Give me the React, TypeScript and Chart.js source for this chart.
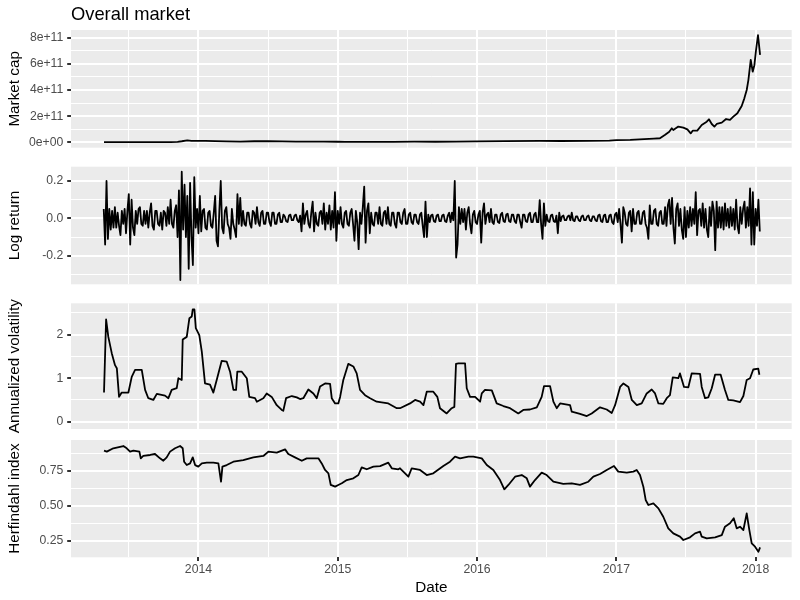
import React, { useEffect, useRef } from 'react';
import { Chart, registerables } from 'chart.js';

Chart.register(...registerables);
Chart.defaults.font.family = "'Liberation Sans', Arial, Helvetica, sans-serif";

// ---------------- data (x values are decimal years) ----------------
const chartTitle = 'Overall market';
const xAxisTitle = 'Date';
const xYearTicks = [2014, 2015, 2016, 2017, 2018];
const xYearLabels = ['2014', '2015', '2016', '2017', '2018'];
const xHalfYearTicks = [2013.5, 2014.5, 2015.5, 2016.5, 2017.5];
const xMin = 2013.085;
const xMax = 2018.259;

// Market cap (billions USD)
const capYears = [
  2013.322, 2013.4, 2013.5, 2013.6, 2013.7, 2013.8, 2013.85, 2013.88, 2013.92, 2013.95,
  2013.98, 2014.05, 2014.12, 2014.2, 2014.3, 2014.4, 2014.5, 2014.6, 2014.7, 2014.8,
  2014.9, 2015.0, 2015.05, 2015.2, 2015.4, 2015.55, 2015.7, 2015.85, 2016.0, 2016.2,
  2016.45, 2016.6, 2016.8, 2016.95, 2017.0, 2017.1, 2017.2, 2017.27, 2017.313, 2017.348,
  2017.38, 2017.398, 2017.409, 2017.445, 2017.481, 2017.51, 2017.534, 2017.548, 2017.581, 2017.613,
  2017.649, 2017.665, 2017.685, 2017.704, 2017.721, 2017.757, 2017.788, 2017.816, 2017.84, 2017.869,
  2017.9, 2017.919, 2017.936, 2017.948, 2017.965, 2017.979, 2017.991, 2018.003, 2018.017, 2018.032,
];
const capBillions = [
  1.5, 1.2, 1.0, 1.3, 1.6, 2.0, 3.5, 8.0, 15.0, 10.5,
  11.0, 11.5, 9.0, 7.5, 5.8, 8.0, 8.5, 6.5, 5.5, 4.8,
  4.8, 4.2, 3.0, 3.8, 3.5, 4.6, 4.2, 5.5, 7.0, 8.3,
  11.5, 10.0, 11.0, 13.5, 17.0, 18.0, 24.0, 28.0, 31, 56,
  81, 107, 94, 120, 112, 99, 68, 89, 89, 132,
  158, 176, 140, 120, 140, 150, 178, 171, 196, 222,
  278, 336, 400, 476, 630, 540, 590, 706, 820, 668,
];

// Log return
const returnYears = [
  2013.32, 2013.33, 2013.34, 2013.35, 2013.36, 2013.37, 2013.38, 2013.39,
  2013.40, 2013.41, 2013.42, 2013.43, 2013.44, 2013.45, 2013.46, 2013.47, 2013.48, 2013.49,
  2013.50, 2013.51, 2013.52, 2013.53, 2013.54, 2013.55, 2013.56, 2013.57, 2013.58, 2013.59,
  2013.60, 2013.61, 2013.62, 2013.63, 2013.64, 2013.65, 2013.66, 2013.67, 2013.68, 2013.69,
  2013.70, 2013.71, 2013.72, 2013.73, 2013.74, 2013.75, 2013.76, 2013.77, 2013.78, 2013.79,
  2013.80, 2013.81, 2013.82, 2013.83, 2013.84, 2013.85, 2013.86, 2013.87, 2013.88, 2013.89,
  2013.90, 2013.91, 2013.92, 2013.93, 2013.94, 2013.95, 2013.96, 2013.97, 2013.98, 2013.99,
  2014.00, 2014.01, 2014.02, 2014.03, 2014.04, 2014.05, 2014.06, 2014.07, 2014.08, 2014.09,
  2014.10, 2014.11, 2014.12, 2014.13, 2014.14, 2014.15, 2014.16, 2014.17, 2014.18, 2014.19,
  2014.20, 2014.21, 2014.22, 2014.23, 2014.24, 2014.25, 2014.26, 2014.27, 2014.28, 2014.29,
  2014.30, 2014.31, 2014.32, 2014.33, 2014.34, 2014.35, 2014.36, 2014.37, 2014.38, 2014.39,
  2014.40, 2014.41, 2014.42, 2014.43, 2014.44, 2014.45, 2014.46, 2014.47, 2014.48, 2014.49,
  2014.50, 2014.51, 2014.52, 2014.53, 2014.54, 2014.55, 2014.56, 2014.57, 2014.58, 2014.59,
  2014.60, 2014.61, 2014.62, 2014.63, 2014.64, 2014.65, 2014.66, 2014.67, 2014.68, 2014.69,
  2014.70, 2014.71, 2014.72, 2014.73, 2014.74, 2014.75, 2014.76, 2014.77, 2014.78, 2014.79,
  2014.80, 2014.81, 2014.82, 2014.83, 2014.84, 2014.85, 2014.86, 2014.87, 2014.88, 2014.89,
  2014.90, 2014.91, 2014.92, 2014.93, 2014.94, 2014.95, 2014.96, 2014.97, 2014.98, 2014.99,
  2015.00, 2015.01, 2015.02, 2015.03, 2015.04, 2015.05, 2015.06, 2015.07, 2015.08, 2015.09,
  2015.10, 2015.11, 2015.12, 2015.13, 2015.14, 2015.15, 2015.16, 2015.17, 2015.18, 2015.19,
  2015.20, 2015.21, 2015.22, 2015.23, 2015.24, 2015.25, 2015.26, 2015.27, 2015.28, 2015.29,
  2015.30, 2015.31, 2015.32, 2015.33, 2015.34, 2015.35, 2015.36, 2015.37, 2015.38, 2015.39,
  2015.40, 2015.41, 2015.42, 2015.43, 2015.44, 2015.45, 2015.46, 2015.47, 2015.48, 2015.49,
  2015.50, 2015.51, 2015.52, 2015.53, 2015.54, 2015.55, 2015.56, 2015.57, 2015.58, 2015.59,
  2015.60, 2015.61, 2015.62, 2015.63, 2015.64, 2015.65, 2015.66, 2015.67, 2015.68, 2015.69,
  2015.70, 2015.71, 2015.72, 2015.73, 2015.74, 2015.75, 2015.76, 2015.77, 2015.78, 2015.79,
  2015.80, 2015.81, 2015.82, 2015.83, 2015.84, 2015.85, 2015.86, 2015.87, 2015.88, 2015.89,
  2015.90, 2015.91, 2015.92, 2015.93, 2015.94, 2015.95, 2015.96, 2015.97, 2015.98, 2015.99,
  2016.00, 2016.01, 2016.02, 2016.03, 2016.04, 2016.05, 2016.06, 2016.07, 2016.08, 2016.09,
  2016.10, 2016.11, 2016.12, 2016.13, 2016.14, 2016.15, 2016.16, 2016.17, 2016.18, 2016.19,
  2016.20, 2016.21, 2016.22, 2016.23, 2016.24, 2016.25, 2016.26, 2016.27, 2016.28, 2016.29,
  2016.30, 2016.31, 2016.32, 2016.33, 2016.34, 2016.35, 2016.36, 2016.37, 2016.38, 2016.39,
  2016.40, 2016.41, 2016.42, 2016.43, 2016.44, 2016.45, 2016.46, 2016.47, 2016.48, 2016.49,
  2016.50, 2016.51, 2016.52, 2016.53, 2016.54, 2016.55, 2016.56, 2016.57, 2016.58, 2016.59,
  2016.60, 2016.61, 2016.62, 2016.63, 2016.64, 2016.65, 2016.66, 2016.67, 2016.68, 2016.69,
  2016.70, 2016.71, 2016.72, 2016.73, 2016.74, 2016.75, 2016.76, 2016.77, 2016.78, 2016.79,
  2016.80, 2016.81, 2016.82, 2016.83, 2016.84, 2016.85, 2016.86, 2016.87, 2016.88, 2016.89,
  2016.90, 2016.91, 2016.92, 2016.93, 2016.94, 2016.95, 2016.96, 2016.97, 2016.98, 2016.99,
  2017.00, 2017.01, 2017.02, 2017.03, 2017.04, 2017.05, 2017.06, 2017.07, 2017.08, 2017.09,
  2017.10, 2017.11, 2017.12, 2017.13, 2017.14, 2017.15, 2017.16, 2017.17, 2017.18, 2017.19,
  2017.20, 2017.21, 2017.22, 2017.23, 2017.24, 2017.25, 2017.26, 2017.27, 2017.28, 2017.29,
  2017.30, 2017.31, 2017.32, 2017.33, 2017.34, 2017.35, 2017.36, 2017.37, 2017.38, 2017.39,
  2017.40, 2017.41, 2017.42, 2017.43, 2017.44, 2017.45, 2017.46, 2017.47, 2017.48, 2017.49,
  2017.50, 2017.51, 2017.52, 2017.53, 2017.54, 2017.55, 2017.56, 2017.57, 2017.58, 2017.59,
  2017.60, 2017.61, 2017.62, 2017.63, 2017.64, 2017.65, 2017.66, 2017.67, 2017.68, 2017.69,
  2017.70, 2017.71, 2017.72, 2017.73, 2017.74, 2017.75, 2017.76, 2017.77, 2017.78, 2017.79,
  2017.80, 2017.81, 2017.82, 2017.83, 2017.84, 2017.85, 2017.86, 2017.87, 2017.88, 2017.89,
  2017.90, 2017.91, 2017.92, 2017.93, 2017.94, 2017.95, 2017.96, 2017.97, 2017.98, 2017.99,
  2018.00, 2018.01, 2018.02, 2018.03,
];
const returnValues = [
  0.05, -0.14, 0.2, -0.11, 0.05, -0.06, 0.04, -0.05,
  0.06, -0.05, 0.03, -0.04, -0.09, 0.04, -0.03, 0.05, -0.08, 0.04,
  0.13, -0.14, 0.1, -0.05, -0.09, 0.04, -0.03, 0.05, 0.06, -0.03,
  -0.04, 0.04, -0.03, 0.04, -0.05, 0.03, 0.08, -0.04, -0.06, 0.04,
  0.04, -0.03, -0.04, 0.03, -0.06, 0.04, 0.03, -0.04, 0.06, -0.03,
  0.1, -0.03, -0.05, 0.04, 0.07, -0.1, 0.15, -0.33, 0.25, -0.06,
  0.18, -0.1, 0.12, -0.27, 0.19, -0.1, -0.25, 0.22, -0.05, 0.05,
  -0.08, 0.12, -0.07, 0.04, 0.05, -0.05, -0.06, 0.03, 0.04, -0.04,
  -0.05, 0.03, 0.12, -0.12, -0.15, 0.04, 0.2, -0.05, -0.08, 0.04,
  0.06, -0.03, -0.05, -0.11, 0.05, -0.03, -0.06, -0.1, 0.13, -0.03,
  0.11, -0.04, 0.04, -0.03, -0.04, 0.03, 0.03, -0.03, -0.05, 0.04,
  0.03, -0.03, 0.06, -0.02, -0.04, 0.03, 0.04, -0.03, -0.03, 0.03,
  0.03, -0.02, -0.04, 0.03, 0.03, -0.03, -0.03, 0.02, 0.03, -0.02,
  -0.02, 0.02, 0.01, -0.015, -0.02, 0.015, 0.02, -0.01, -0.01, 0.015,
  0.02, -0.01, -0.02, 0.015, -0.07, 0.08, -0.03, 0.02, 0.04, -0.03,
  -0.05, 0.03, 0.09, -0.07, 0.03, -0.03, -0.04, 0.03, 0.04, -0.03,
  0.08, -0.06, 0.03, -0.03, 0.07, -0.06, 0.04, -0.05, 0.14, -0.12,
  0.04, -0.03, 0.06, -0.03, -0.05, 0.03, 0.04, -0.03, -0.04, 0.03,
  0.05, -0.03, -0.12, 0.04, -0.02, -0.165, 0.03, -0.03, 0.06, 0.17,
  -0.13, 0.04, 0.08, -0.08, 0.03, -0.03, -0.04, 0.03, 0.03, -0.03,
  0.06, -0.03, -0.04, 0.03, 0.04, -0.03, 0.06, -0.03, -0.04, 0.03,
  0.03, -0.03, -0.05, 0.03, 0.03, -0.02, -0.03, 0.03, 0.05, -0.03,
  -0.03, 0.02, 0.03, -0.02, -0.03, 0.02, 0.02, -0.02, -0.03, 0.02,
  0.03, -0.04, -0.1, 0.09, -0.1, 0.02, -0.02, 0.015, 0.02, -0.015,
  -0.02, 0.015, 0.02, -0.015, -0.015, 0.015, 0.02, -0.015, -0.02, 0.015,
  0.03, -0.02, 0.03, -0.01, 0.2, -0.21, -0.14, 0.06, -0.03, 0.05,
  -0.02, 0.05, -0.06, 0.03, 0.06, -0.03, -0.08, 0.02, 0.04, -0.02,
  -0.03, 0.02, 0.04, -0.13, 0.03, 0.08, -0.03, 0.02, 0.03, -0.02,
  0.05, -0.02, -0.03, 0.02, 0.02, -0.02, -0.025, 0.02, 0.03, -0.015,
  -0.02, 0.02, 0.025, -0.015, -0.02, 0.02, 0.02, -0.015, -0.025, 0.02,
  0.02, -0.02, -0.05, 0.02, 0.02, -0.015, -0.02, 0.02, 0.03, -0.02,
  -0.02, 0.02, 0.03, -0.02, -0.02, 0.098, -0.03, -0.11, 0.08, -0.04,
  0.02, -0.015, -0.02, 0.015, 0.02, -0.015, -0.02, 0.015, -0.08, 0.03,
  -0.015, 0.01, 0.015, -0.01, -0.01, 0.01, 0.015, -0.01, 0.03, -0.01,
  -0.015, 0.01, 0.01, -0.01, -0.015, 0.01, 0.015, -0.01, -0.01, 0.01,
  0.015, -0.01, -0.015, 0.01, 0.01, -0.01, -0.015, 0.015, 0.02, -0.015,
  -0.02, 0.015, 0.02, -0.02, -0.02, 0.015, 0.02, -0.02, -0.03, 0.02,
  0.03, -0.02, 0.05, -0.03, -0.13, 0.06, 0.03, -0.03, -0.04, 0.03,
  0.04, -0.07, 0.05, -0.03, -0.03, 0.03, 0.04, -0.03, -0.03, 0.03,
  0.04, -0.03, -0.05, -0.11, 0.07, -0.03, -0.03, 0.04, 0.05, -0.03,
  -0.04, 0.03, 0.04, -0.03, -0.03, 0.06, -0.04, 0.07, 0.1, -0.03,
  0.11, -0.05, -0.135, 0.05, 0.08, -0.04, 0.05, -0.06, -0.11, 0.06,
  -0.1, 0.04, -0.05, 0.06, -0.04, 0.05, -0.03, 0.14, -0.09, 0.04,
  0.05, -0.04, 0.08, -0.05, 0.05, -0.06, -0.1, 0.06, -0.04, 0.09,
  0.04, -0.17, 0.09, -0.05, 0.06, -0.05, 0.06, -0.06, 0.08, -0.04,
  0.05, -0.05, 0.06, -0.04, 0.05, -0.06, 0.1, -0.04, -0.08, 0.06,
  -0.03, 0.05, 0.09, -0.05, 0.06, -0.04, 0.16, -0.14, 0.14, -0.14,
  0.05, -0.04, 0.1, -0.07,
];

// Annualized volatility
const volYears = [
  2013.322, 2013.33, 2013.337, 2013.353, 2013.378, 2013.401, 2013.414, 2013.43, 2013.449, 2013.497,
  2013.521, 2013.545, 2013.593, 2013.617, 2013.64, 2013.676, 2013.701, 2013.76, 2013.784, 2013.808,
  2013.844, 2013.856, 2013.88, 2013.887, 2013.916, 2013.935, 2013.952, 2013.959, 2013.971, 2013.981,
  2014.006, 2014.024, 2014.047, 2014.083, 2014.107, 2014.131, 2014.167, 2014.203, 2014.227, 2014.251,
  2014.27, 2014.279, 2014.311, 2014.347, 2014.365, 2014.406, 2014.419, 2014.466, 2014.49, 2014.526,
  2014.562, 2014.598, 2014.609, 2014.629, 2014.67, 2014.706, 2014.729, 2014.753, 2014.789, 2014.825,
  2014.849, 2014.873, 2014.909, 2014.945, 2014.957, 2014.981, 2015.004, 2015.017, 2015.04, 2015.076,
  2015.112, 2015.136, 2015.16, 2015.196, 2015.232, 2015.28, 2015.327, 2015.363, 2015.424, 2015.447,
  2015.519, 2015.555, 2015.591, 2015.615, 2015.639, 2015.686, 2015.715, 2015.734, 2015.782, 2015.818,
  2015.837, 2015.849, 2015.866, 2015.914, 2015.926, 2015.95, 2015.986, 2016.022, 2016.034, 2016.057,
  2016.106, 2016.141, 2016.189, 2016.237, 2016.296, 2016.332, 2016.38, 2016.429, 2016.464, 2016.481,
  2016.524, 2016.548, 2016.572, 2016.596, 2016.668, 2016.68, 2016.739, 2016.788, 2016.823, 2016.883,
  2016.931, 2016.967, 2016.991, 2017.027, 2017.051, 2017.087, 2017.111, 2017.147, 2017.182, 2017.218,
  2017.254, 2017.278, 2017.302, 2017.337, 2017.362, 2017.385, 2017.405, 2017.445, 2017.457, 2017.486,
  2017.517, 2017.541, 2017.601, 2017.613, 2017.637, 2017.66, 2017.685, 2017.709, 2017.749, 2017.78,
  2017.804, 2017.84, 2017.888, 2017.912, 2017.936, 2017.96, 2017.983, 2018.019, 2018.027,
];
const volValues = [
  0.67, 1.57, 2.35, 1.95, 1.57, 1.3, 1.23, 0.57, 0.67, 0.67,
  1.03, 1.19, 1.19, 0.73, 0.54, 0.5, 0.64, 0.6, 0.54, 0.73,
  0.77, 1.0, 0.96, 1.89, 1.95, 2.38, 2.42, 2.58, 2.58, 2.15,
  1.99, 1.61, 0.88, 0.85, 0.67, 0.96, 1.4, 1.38, 1.15, 0.73,
  0.73, 1.15, 1.15, 1.0, 0.57, 0.54, 0.46, 0.54, 0.65, 0.57,
  0.38, 0.27, 0.25, 0.54, 0.59, 0.56, 0.52, 0.54, 0.74, 0.65,
  0.54, 0.81, 0.88, 0.87, 0.54, 0.42, 0.42, 0.57, 0.96, 1.33,
  1.27, 1.11, 0.73, 0.61, 0.54, 0.46, 0.44, 0.42, 0.31, 0.31,
  0.42, 0.5, 0.46, 0.38, 0.69, 0.69, 0.57, 0.31, 0.19, 0.31,
  0.34, 1.33, 1.34, 1.34, 0.77, 0.57, 0.57, 0.46, 0.65, 0.73,
  0.72, 0.42, 0.36, 0.31, 0.19, 0.27, 0.28, 0.33, 0.57, 0.82,
  0.82, 0.46, 0.31, 0.42, 0.38, 0.23, 0.18, 0.13, 0.19, 0.33,
  0.28, 0.2, 0.38, 0.8, 0.88, 0.8, 0.5, 0.38, 0.42, 0.65,
  0.74, 0.65, 0.42, 0.41, 0.54, 0.61, 1.02, 1.0, 1.11, 0.8,
  0.79, 1.11, 1.1, 0.8, 0.54, 0.56, 0.77, 1.08, 1.08, 0.73,
  0.5, 0.49, 0.45, 0.59, 0.96, 1.0, 1.2, 1.22, 1.08,
];

// Herfindahl index
const hhiYears = [
  2013.322, 2013.342, 2013.389, 2013.461, 2013.485, 2013.509, 2013.533, 2013.576, 2013.586, 2013.604,
  2013.653, 2013.688, 2013.724, 2013.748, 2013.772, 2013.796, 2013.832, 2013.868, 2013.887, 2013.897,
  2013.916, 2013.94, 2013.959, 2013.976, 2013.999, 2014.024, 2014.06, 2014.107, 2014.143, 2014.162,
  2014.172, 2014.203, 2014.251, 2014.322, 2014.394, 2014.466, 2014.502, 2014.562, 2014.622, 2014.645,
  2014.693, 2014.742, 2014.777, 2014.861, 2014.885, 2014.909, 2014.933, 2014.95, 2014.981, 2015.004,
  2015.029, 2015.065, 2015.112, 2015.148, 2015.172, 2015.208, 2015.256, 2015.304, 2015.363, 2015.388,
  2015.435, 2015.447, 2015.507, 2015.531, 2015.591, 2015.639, 2015.686, 2015.758, 2015.806, 2015.842,
  2015.878, 2015.938, 2015.973, 2016.034, 2016.07, 2016.117, 2016.165, 2016.196, 2016.225, 2016.273,
  2016.321, 2016.357, 2016.38, 2016.416, 2016.464, 2016.5, 2016.548, 2016.619, 2016.68, 2016.739,
  2016.799, 2016.835, 2016.883, 2016.931, 2016.983, 2017.014, 2017.075, 2017.122, 2017.146, 2017.17,
  2017.194, 2017.211, 2017.23, 2017.266, 2017.302, 2017.337, 2017.373, 2017.409, 2017.457, 2017.481,
  2017.529, 2017.565, 2017.601, 2017.613, 2017.649, 2017.709, 2017.757, 2017.78, 2017.816, 2017.843,
  2017.864, 2017.888, 2017.912, 2017.936, 2017.955, 2017.972, 2017.996, 2018.02, 2018.032,
];
const hhiValues = [
  0.893, 0.886, 0.91, 0.926, 0.91, 0.886, 0.893, 0.886, 0.838, 0.855,
  0.862, 0.869, 0.838, 0.821, 0.845, 0.886, 0.91, 0.926, 0.91, 0.814,
  0.79, 0.802, 0.845, 0.79, 0.779, 0.802, 0.807, 0.807, 0.802, 0.671,
  0.779, 0.79, 0.814, 0.826, 0.845, 0.855, 0.886, 0.879, 0.902, 0.869,
  0.845, 0.821, 0.838, 0.838, 0.802, 0.755, 0.731, 0.648, 0.636, 0.648,
  0.66, 0.683, 0.695, 0.719, 0.774, 0.76, 0.779, 0.783, 0.807, 0.767,
  0.76, 0.767, 0.707, 0.767, 0.755, 0.719, 0.731, 0.783, 0.814, 0.85,
  0.838, 0.85, 0.85, 0.838, 0.79, 0.755, 0.683, 0.617, 0.648, 0.707,
  0.719, 0.695, 0.636, 0.683, 0.736, 0.719, 0.671, 0.655, 0.66, 0.648,
  0.671, 0.707, 0.726, 0.755, 0.783, 0.743, 0.736, 0.743, 0.755, 0.719,
  0.636, 0.54, 0.505, 0.517, 0.481, 0.421, 0.338, 0.302, 0.279, 0.255,
  0.274, 0.302, 0.314, 0.279, 0.267, 0.274, 0.29, 0.35, 0.374, 0.41,
  0.338, 0.35, 0.326, 0.445, 0.326, 0.231, 0.207, 0.171, 0.202,
];

// y-axis breaks and labels
const capMajor = [0, 2e11, 4e11, 6e11, 8e11];
const capLabels = ['0e+00', '2e+11', '4e+11', '6e+11', '8e+11'];
const capMinor = [1e11, 3e11, 5e11, 7e11];
const retMajor = [-0.2, 0, 0.2];
const retLabels = ['-0.2', '0.0', '0.2'];
const retMinor = [-0.3, -0.1, 0.1];
const volMajor = [0, 1, 2];
const volLabels = ['0', '1', '2'];
const volMinor = [0.5, 1.5, 2.5];
const hhiMajor = [0.25, 0.5, 0.75];
const hhiLabels = ['0.25', '0.50', '0.75'];
const hhiMinor = [0.375, 0.625, 0.875];

// ---------------- chart building ----------------
type PanelSpec = {
  id: string;
  top: number;
  height: number;
  padTop: number;
  padBottom: number;
  xs: number[];
  ys: number[];
  factor: number;
  yMin: number;
  yMax: number;
  yMajor: number[];
  yLabels: string[];
  yMinor: number[];
  yTitle: string;
  title?: string;
  showX: boolean;
};

const near = (a: number, b: number) => Math.abs(a - b) <= 1e-9 * Math.max(1, Math.abs(b));

function tickList(major: number[], minor: number[]) {
  return [
    ...major.map((v) => ({ value: v, isMajor: true })),
    ...minor.map((v) => ({ value: v, isMajor: false })),
  ].sort((a, b) => a.value - b.value);
}

const panelBackground = {
  id: 'panelBackground',
  beforeDraw(chart: any) {
    const { ctx, chartArea: a } = chart;
    ctx.save();
    ctx.fillStyle = '#EBEBEB';
    ctx.fillRect(a.left, a.top, a.right - a.left, a.bottom - a.top);
    ctx.restore();
  },
};

const TICK_FONT = 12.22;
const AXIS_TITLE_FONT = 15.28;

function makeConfig(p: PanelSpec): any {
  const gridWidth = (ctx: any) => (ctx.tick && ctx.tick.isMajor ? 2 : 1);
  const tickColor = (ctx: any) => (ctx.tick && ctx.tick.isMajor ? '#333333' : 'rgba(0,0,0,0)');
  const n = Math.min(p.xs.length, p.ys.length);
  const data = p.xs.slice(0, n).map((x, i) => ({ x, y: p.ys[i] * p.factor }));
  return {
    type: 'line',
    data: {
      datasets: [
        {
          data,
          borderColor: '#000000',
          borderWidth: 1.8,
          pointRadius: 0,
          pointHoverRadius: 0,
          fill: false,
          tension: 0,
          borderJoinStyle: 'round',
          borderCapStyle: 'butt',
        },
      ],
    },
    options: {
      responsive: false,
      maintainAspectRatio: false,
      animation: false,
      events: [],
      layout: {
        autoPadding: false,
        padding: { left: 0, right: 8.3, top: p.padTop, bottom: p.padBottom },
      },
      plugins: {
        legend: { display: false },
        tooltip: { enabled: false },
        title: p.title
          ? {
              display: true,
              text: p.title,
              align: 'start',
              fullSize: false,
              color: '#000000',
              font: { size: 18.33, weight: 'normal', lineHeight: 1.2 },
              padding: { top: 4.35, bottom: 3.65 },
            }
          : { display: false },
      },
      scales: {
        x: {
          type: 'linear',
          position: 'bottom',
          min: xMin,
          max: xMax,
          bounds: 'data',
          afterBuildTicks: (s: any) => {
            s.ticks = tickList(xYearTicks, xHalfYearTicks);
          },
          afterFit: (s: any) => {
            s.height = p.showX ? 42.7 : 0;
          },
          grid: {
            color: '#FFFFFF',
            lineWidth: gridWidth,
            drawTicks: p.showX,
            tickLength: 3.8,
            tickColor,
            tickWidth: 2,
          },
          border: { display: false },
          ticks: {
            display: p.showX,
            autoSkip: false,
            maxRotation: 0,
            minRotation: 0,
            padding: 1.5,
            color: '#4D4D4D',
            font: { size: TICK_FONT },
            callback: (v: number) => {
              const i = xYearTicks.findIndex((t) => near(t, v));
              return i >= 0 ? xYearLabels[i] : '';
            },
          },
          title: {
            display: p.showX,
            text: xAxisTitle,
            color: '#000000',
            font: { size: AXIS_TITLE_FONT, lineHeight: 1.2 },
            padding: { top: 0, bottom: 2.8 },
          },
        },
        y: {
          type: 'linear',
          position: 'left',
          min: p.yMin,
          max: p.yMax,
          bounds: 'data',
          afterBuildTicks: (s: any) => {
            s.ticks = tickList(p.yMajor, p.yMinor);
          },
          afterFit: (s: any) => {
            s.width = 71;
          },
          grid: {
            color: '#FFFFFF',
            lineWidth: gridWidth,
            drawTicks: true,
            tickLength: 3.8,
            tickColor,
            tickWidth: 2,
          },
          border: { display: false },
          ticks: {
            autoSkip: false,
            padding: 3.9,
            color: '#4D4D4D',
            font: { size: TICK_FONT },
            callback: (v: number) => {
              const i = p.yMajor.findIndex((t) => near(t, v));
              return i >= 0 ? p.yLabels[i] : '';
            },
          },
          title: {
            display: true,
            text: p.yTitle,
            color: '#000000',
            font: { size: AXIS_TITLE_FONT, lineHeight: 1.2 },
            padding: { top: 5.5, bottom: 0 },
          },
        },
      },
    },
    plugins: [panelBackground],
  };
}

const panels: PanelSpec[] = [
  {
    id: 'cap', top: 0, height: 162, padTop: 0, padBottom: 14.3,
    xs: capYears, ys: capBillions, factor: 1e9,
    yMin: -0.413e11, yMax: 8.589e11,
    yMajor: capMajor, yLabels: capLabels, yMinor: capMinor,
    yTitle: 'Market cap', title: chartTitle, showX: false,
  },
  {
    id: 'ret', top: 153, height: 146, padTop: 13.7, padBottom: 14.7,
    xs: returnYears, ys: returnValues, factor: 1,
    yMin: -0.3531, yMax: 0.2766,
    yMajor: retMajor, yLabels: retLabels, yMinor: retMinor,
    yTitle: 'Log return', showX: false,
  },
  {
    id: 'vol', top: 289, height: 154, padTop: 14.3, padBottom: 14,
    xs: volYears, ys: volValues, factor: 1,
    yMin: -0.168, yMax: 2.722,
    yMajor: volMajor, yLabels: volLabels, yMinor: volMinor,
    yTitle: 'Annualized volatility', showX: false,
  },
  {
    id: 'hhi', top: 426, height: 174, padTop: 14, padBottom: 0,
    xs: hhiYears, ys: hhiValues, factor: 1,
    yMin: 0.1314, yMax: 0.969,
    yMajor: hhiMajor, yLabels: hhiLabels, yMinor: hhiMinor,
    yTitle: 'Herfindahl index', showX: true,
  },
];

function PanelChart({ spec }: { spec: PanelSpec }) {
  const ref = useRef<HTMLCanvasElement | null>(null);
  useEffect(() => {
    if (!ref.current) return;
    const chart = new Chart(ref.current, makeConfig(spec));
    return () => chart.destroy();
  }, [spec]);
  return (
    <canvas
      ref={ref}
      width={800}
      height={spec.height}
      style={{
        position: 'absolute',
        left: 0,
        top: spec.top,
        width: 800,
        height: spec.height,
        display: 'block',
      }}
    />
  );
}

export default function App() {
  return (
    <div
      style={{
        position: 'absolute',
        left: 0,
        top: 0,
        width: 800,
        height: 600,
        background: '#FFFFFF',
        overflow: 'hidden',
      }}
    >
      {panels.map((p) => (
        <PanelChart key={p.id} spec={p} />
      ))}
    </div>
  );
}
